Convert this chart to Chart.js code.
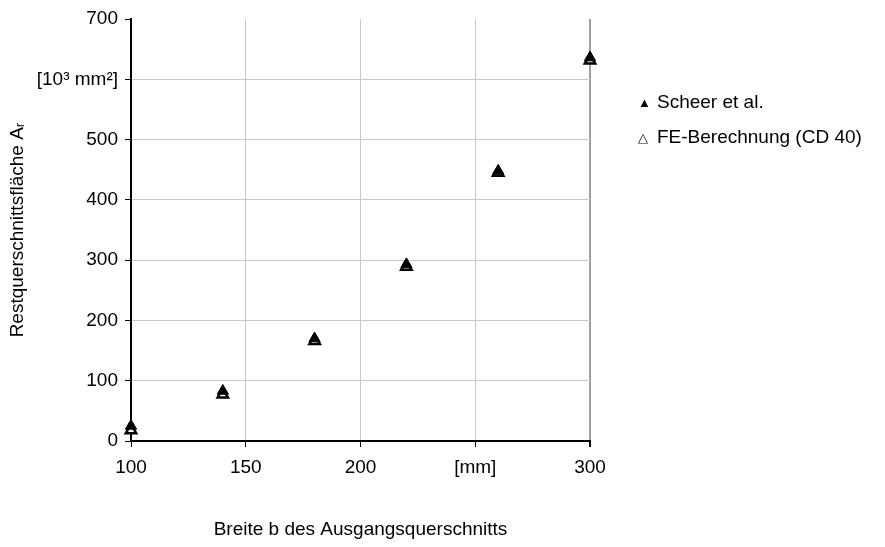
<!DOCTYPE html>
<html>
<head>
<meta charset="utf-8">
<script src="https://cdn.jsdelivr.net/npm/chart.js@4"></script>
<style>
  body { margin: 0; background: #fff; }
  #wrap { position: relative; width: 885px; height: 547px; }
  #legend { position: absolute; left: 638px; top: 88px; font: 19px "Liberation Sans", Arial, sans-serif; color: #000; }
  #legend div { height: 35px; line-height: 28px; }
  #legend span.m { display: inline-block; width: 19px; font-size: 13px; vertical-align: 1px; }
</style>
</head>
<body>
<div id="wrap">
  <canvas id="c" width="885" height="547"></canvas>
  <div id="legend"></div>
</div>
<script>
// Breite b [mm]
const widths = [100, 140, 180, 220, 260, 300];
// Restquerschnittsfläche [10^3 mm^2]
const scheer = [25, 83, 170, 293, 448, 636];
const feCD40 = [18, 77, 166, 289, 445, 631];

const seriesNames = ["Scheer et al.", "FE-Berechnung (CD 40)"];
const xTickText = { 250: "[mm]" };
const yTickText = { 600: "[10\u00B3 mm\u00B2]" };

const fontFamily = '"Liberation Sans", Arial, sans-serif';

const toPoints = (ys) => widths.map((x, i) => ({ x: x, y: ys[i] }));

const ctx = document.getElementById("c").getContext("2d");
new Chart(ctx, {
  type: "scatter",
  data: {
    datasets: [
      {
        label: seriesNames[0],
        data: toPoints(scheer),
        pointStyle: "triangle",
        pointRadius: 6.5,
        backgroundColor: "#000",
        borderColor: "#000",
        borderWidth: 1,
        clip: false,
      },
      {
        label: seriesNames[1],
        data: toPoints(feCD40),
        pointStyle: "triangle",
        pointRadius: 6,
        backgroundColor: "#fff",
        borderColor: "#000",
        borderWidth: 2.5,
        clip: false,
      },
    ],
  },
  options: {
    responsive: false,
    animation: false,
    layout: { padding: { top: 19, right: 295, bottom: 0, left: 0 } },
    plugins: {
      legend: { display: false },
      tooltip: { enabled: false },
    },
    scales: {
      x: {
        type: "linear",
        min: 100,
        max: 300,
        ticks: {
          stepSize: 50,
          padding: 9,
          color: "#000",
          font: { family: fontFamily, size: 19 },
          callback: (v) => xTickText[v] || v,
        },
        grid: {
          color: (c) => (c.tick && c.tick.value === 300 ? "#a0a0a0" : "#c8c8c8"),
          lineWidth: (c) => (c.tick && c.tick.value === 300 ? 2 : 1),
          tickColor: "#000",
          tickLength: 6,
        },
        border: { color: "#000", width: 2 },
        title: {
          display: true,
          text: "Breite b des Ausgangsquerschnitts",
          color: "#000",
          font: { family: fontFamily, size: 19 },
          padding: { top: 0, bottom: 6 },
        },
        afterFit: (scale) => { scale.height = 106; },
      },
      y: {
        min: 0,
        max: 700,
        ticks: {
          stepSize: 100,
          padding: 7,
          color: "#000",
          font: { family: fontFamily, size: 19 },
          callback: (v) => yTickText[v] || v,
        },
        grid: {
          color: (c) => (c.tick && c.tick.value === 700 ? "rgba(0,0,0,0)" : "#c8c8c8"),
          tickColor: "#000",
          tickLength: 6,
        },
        border: { color: "#000", width: 2 },
        title: {
          display: true,
          text: "Restquerschnittsfläche A\u1D63",
          color: "#000",
          font: { family: fontFamily, size: 19 },
          padding: { top: 6, bottom: 0 },
        },
        afterFit: (scale) => { scale.width = 131; },
      },
    },
  },
});

// legend
const legend = document.getElementById("legend");
const marks = ["\u25B2", "\u25B3"];
seriesNames.forEach((name, i) => {
  const row = document.createElement("div");
  row.innerHTML = '<span class="m">' + marks[i] + "</span>" + name;
  legend.appendChild(row);
});
</script>
</body>
</html>
